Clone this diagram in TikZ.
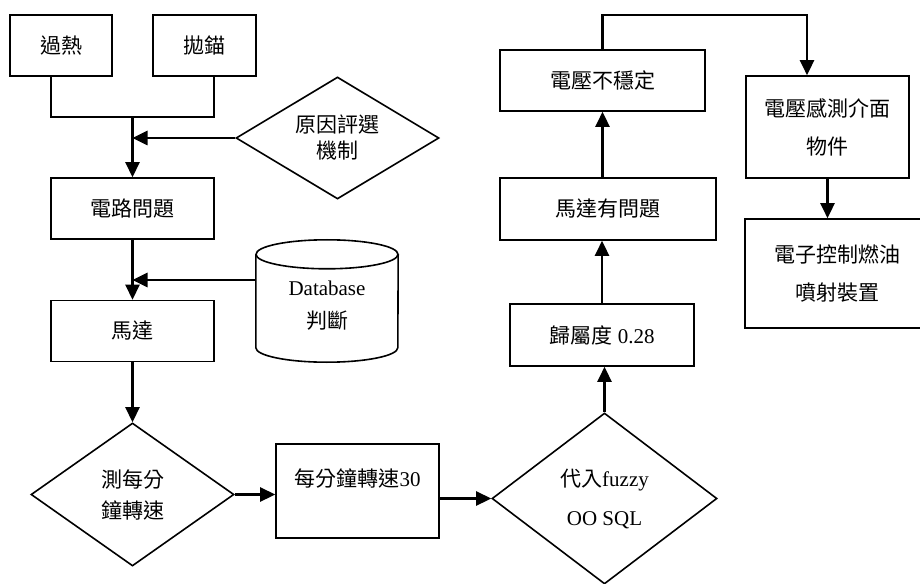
\documentclass[tikz,border=0pt]{standalone}
\usepackage{fontspec}
\setmainfont{Liberation Serif}
\newfontfamily\cjk{Noto Sans CJK TC}
\usetikzlibrary{shapes.geometric,arrows.meta}
\newcommand\zh[1]{{\cjk #1}}
\tikzset{
  outline/.style={line width=1.6bp},
  box/.style={outline, draw, rectangle, inner sep=0pt, align=center,
    font=\fontsize{21bp}{38bp}\selectfont},
  dia/.style={outline, draw, diamond, inner sep=0pt, align=center},
  arr/.style={line width=2.6bp, -{Triangle[width=14bp,length=15bp]}},
  link/.style={line width=2bp},
}
\begin{document}
\begin{tikzpicture}[x=1bp, y=-1bp]
  \useasboundingbox (0,0) rectangle (920,584);
  \fill[white] (0,0) rectangle (920,584);
  \clip (0,0) rectangle (920,584);

  % left column
  \node[box, minimum width=102bp, minimum height=61bp] (ot) at (61,45.5) {\zh{過熱}};
  \node[box, minimum width=103bp, minimum height=61bp] (br) at (204.5,45.5) {\zh{拋錨}};
  \node[box, minimum width=163bp, minimum height=61bp] (circ) at (132.5,208.5) {\zh{電路問題}};
  \node[box, minimum width=163bp, minimum height=61bp] (motor) at (132.5,331) {\zh{馬達}};
  \node[dia, aspect=1.66, minimum width=203bp, minimum height=122bp,
        font=\fontsize{21bp}{26bp}\selectfont] (cause) at (337.5,138) {\zh{原因評選}\\\zh{機制}};
  \node[dia, aspect=1.42, minimum width=203bp, minimum height=143bp,
        font=\fontsize{21bp}{31bp}\selectfont] (meas) at (132.5,494.5) {\zh{測每分}\\\zh{鐘轉速}};

  % database cylinder
  \node[minimum width=142bp, minimum height=122bp, inner sep=0pt] (db) at (327,301) {};
  \draw[outline] ([yshift=-14.5bp]db.north west) -- ([yshift=14.5bp]db.south west)
    arc[start angle=180, end angle=360, x radius=71bp, y radius=14.5bp]
    -- ([yshift=-14.5bp]db.north east);
  \draw[outline] ([yshift=-14.5bp]db.north) ellipse[x radius=71bp, y radius=14.5bp];
  \node[align=center, font=\fontsize{21bp}{33bp}\selectfont] (dbtxt) at ([yshift=-5bp]db.center) {Database\\\zh{判斷}};

  % middle
  \node[box, minimum width=163bp, minimum height=94bp, font=\fontsize{21bp}{26bp}\selectfont]
        (rpm) at (357.5,491) {\zh{每分鐘轉速}{\rmfamily 30}\\~};
  \node[dia, aspect=1.32, minimum width=225bp, minimum height=171bp,
        font=\fontsize{21bp}{39bp}\selectfont] (fz) at (604.5,498.5) {\zh{代入}{\rmfamily fuzzy}\\{\rmfamily OO SQL}};
  \node[box, minimum width=184bp, minimum height=62bp] (mem) at (602,335) {\zh{歸屬度} {\rmfamily 0.28}};
  \node[box, minimum width=216bp, minimum height=62bp] (mp) at (608,209) {\zh{馬達有問題}};
  \node[box, minimum width=205bp, minimum height=61bp] (volt) at (602.5,80.5) {\zh{電壓不穩定}};

  % right column
  \node[box, minimum width=163bp, minimum height=102bp] (sense) at (827.5,127) {\zh{電壓感測介面}\\\zh{物件}};
  \node[box, minimum width=185bp, minimum height=109bp] (inj) at (837.5,273.5) {\zh{電子控制燃油}\\\zh{噴射裝置}};

  % junction points
  \coordinate (uL) at (51,117);
  \coordinate (uR) at (214,117);
  \coordinate (j1) at (132.5,117);
  \coordinate (j3) at (132.5,280);
  \coordinate (t2) at (807,15);

  % connectors
  \draw[link] (ot.south -| uL) -- (uL) -- (uR) -- (br.south -| uR);
  \draw[arr] (j1) -- (circ.north);
  \draw[arr] (cause.west) -- (cause.west -| j1);
  \draw[arr] (circ.south) -- (motor.north);
  \draw[arr] (db.west |- j3) -- (j3);
  \draw[arr] (motor.south) -- (meas.north);
  \draw[arr] (meas.east) -- (meas.east -| rpm.west);
  \draw[arr] (rpm.east |- fz.west) -- (fz.west);
  \draw[arr] (fz.north) -- (fz.north |- mem.south);
  \draw[arr] (mem.north) -- (mem.north |- mp.south);
  \draw[arr] (volt.south |- mp.north) -- (volt.south);
  \draw[arr] (volt.north) |- (t2) -- (t2 |- sense.north);
  \draw[arr] (sense.south) -- (sense.south |- inj.north);
\end{tikzpicture}
\end{document}
